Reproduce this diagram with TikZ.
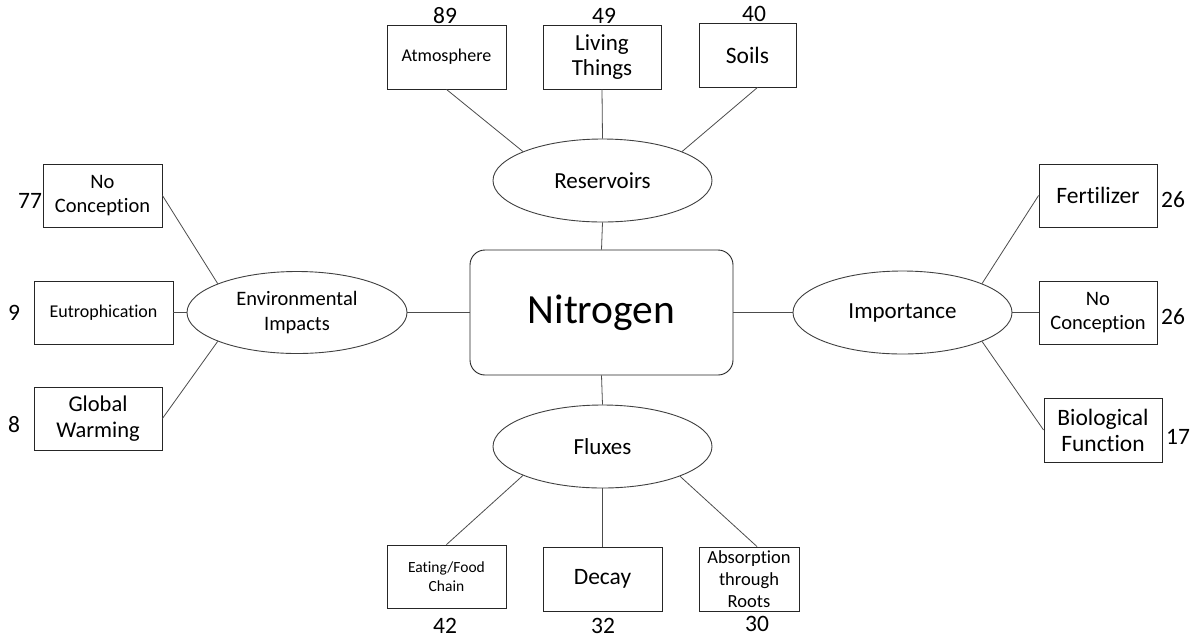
\documentclass[tikz,border=0pt]{standalone}
\usepackage{fontspec}
\setmainfont{Carlito}[Ligatures=NoCommon]
\usetikzlibrary{shapes.geometric}
\newcommand\fsz[2]{\fontsize{#1}{#2}\selectfont}
\begin{document}
\begin{tikzpicture}[x=1pt,y=-1pt,
  box/.style={draw=black!85, line width=0.9pt, rectangle, inner sep=0pt, align=center},
  oval/.style={draw=black!75, line width=0.9pt, ellipse, inner sep=0pt, align=center,
               minimum width=219pt, minimum height=83pt, font=\fsz{23}{26}},
  conn/.style={draw=black!70, line width=0.8pt},
  num/.style={inner sep=0pt, font=\fsz{23.5}{25}}]
\useasboundingbox[fill=white] (0,0) rectangle (1195,638);

% centre
\node[box, rounded corners=15pt, minimum width=263pt, minimum height=125pt, font=\fsz{41.5}{45}] (nit) at (601.5,312.5) {Nitrogen};

% ellipses
\node[oval] (res) at (602.5,180.5) {Reservoirs};
\node[oval, minimum width=220pt, minimum height=82pt, font=\fsz{20.5}{24.5}] (env) at (297,312.5) {Environmental\\Impacts};
\node[oval] (imp) at (902.5,312.5) {Importance};
\node[oval] (flux) at (602.5,446.5) {Fluxes};

% reservoirs boxes
\node[box, minimum width=119pt, minimum height=64pt, font=\fsz{18}{21}] (atm) at (446.5,57) {Atmosphere};
\node[box, minimum width=118pt, minimum height=64pt, font=\fsz{23}{25}] (liv) at (602,57) {Living\\Things};
\node[box, minimum width=97pt, minimum height=64pt, font=\fsz{23.5}{25}] (soil) at (747.5,55) {Soils};

% environmental boxes
\node[box, minimum width=119pt, minimum height=63pt, font=\fsz{20.5}{24}] (nc1) at (102.5,195.5) {No\\Conception};
\node[box, minimum width=139pt, minimum height=63pt, font=\fsz{18}{21}] (eut) at (103.5,312.5) {Eutrophication};
\node[box, minimum width=128pt, minimum height=63pt, font=\fsz{22.5}{26}] (gw) at (98,418.5) {Global\\Warming};

% importance boxes
\node[box, minimum width=118pt, minimum height=63pt, font=\fsz{23.5}{25}] (fert) at (1098,195.5) {Fertilizer};
\node[box, minimum width=118pt, minimum height=63pt, font=\fsz{20.5}{24}] (nc2) at (1098,312.5) {No\\Conception};
\node[box, minimum width=118pt, minimum height=64pt, font=\fsz{23.5}{26}] (bio) at (1103,430) {Biological\\Function};

% fluxes boxes
\node[box, minimum width=119pt, minimum height=63pt, font=\fsz{15.5}{19}] (eat) at (446.5,576.5) {Eating/Food\\Chain};
\node[box, minimum width=119pt, minimum height=64pt, font=\fsz{23.5}{25}] (dec) at (602.5,579) {Decay};
\node[box, minimum width=100pt, minimum height=64pt, font=\fsz{18.5}{22}] (abs) at (749,579) {Absorption\\through\\Roots};

% numbers
\node[num] (n89) at (445,15.5) {89};
\node[num] (n49) at (604,15.5) {49};
\node[num] (n40) at (754,13.5) {40};
\node[num] (n77) at (30,201) {77};
\node[num] (n9) at (14,313) {9};
\node[num] (n8) at (14,425) {8};
\node[num] (n26a) at (1173,200) {26};
\node[num] (n26b) at (1173,317) {26};
\node[num] (n17) at (1178,437) {17};
\node[num] (n42) at (445,625.5) {42};
\node[num] (n32) at (603,626) {32};
\node[num] (n30) at (757,623.5) {30};

% connectors
\draw[conn] (atm.south) -- (res.160);
\draw[conn] (liv.south) -- (res.north);
\draw[conn] ([xshift=10pt]soil.south) -- (res.20);
\draw[conn] (res.south) -- (nit.north);

\draw[conn] (nc1.east) -- (env.160);
\draw[conn] (eut.east) -- (env.west);
\draw[conn] (gw.east) -- (env.200);
\draw[conn] (env.east) -- (nit.west);

\draw[conn] (nit.east) -- (imp.west);
\draw[conn] (fert.west) -- (imp.20);
\draw[conn] (imp.east) -- (nc2.west);
\draw[conn] (bio.west) -- (imp.340);

\draw[conn] (nit.south) -- (flux.north);
\draw[conn] (eat.north) -- (flux.200);
\draw[conn] (flux.south) -- (dec.north);
\draw[conn] ([xshift=8pt]abs.north) -- (flux.339);
\end{tikzpicture}
\end{document}
